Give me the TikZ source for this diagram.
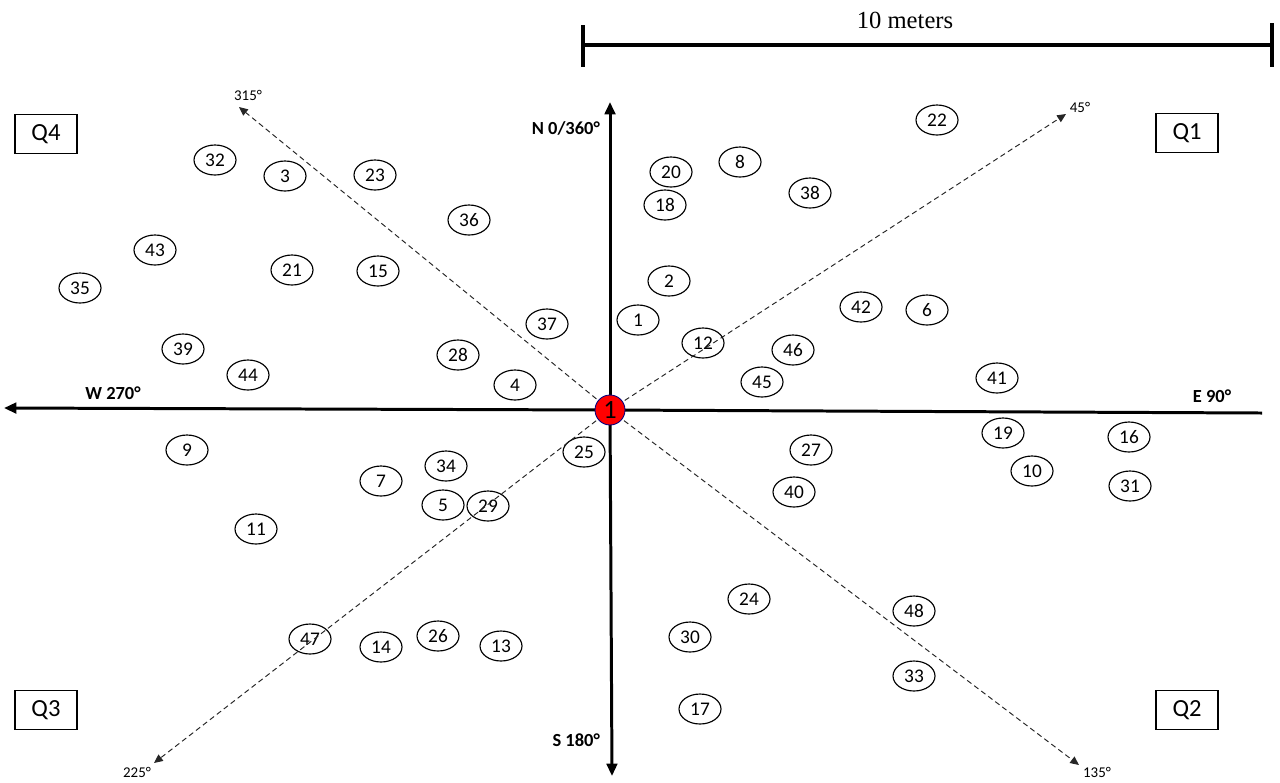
\documentclass[tikz,border=0pt]{standalone}
\usepackage{fontspec}
\setmainfont{Carlito}
\newfontfamily\serifscale{Liberation Serif}
\usetikzlibrary{arrows.meta,shapes.geometric,calc}
\tikzset{
  pt/.style={draw,ellipse,line width=0.65pt,inner sep=0pt,minimum width=0.84cm,minimum height=0.6cm,font=\fontsize{11}{12}\selectfont},
  axis/.style={line width=1.7pt,-{Triangle[length=7pt,width=6pt]}},
  diag/.style={line width=0.55pt,draw=black!85,dash pattern=on 3pt off 2pt,-{Triangle[length=5pt,width=4.5pt]}},
  axlbl/.style={font=\bfseries\fontsize{10.5}{12}\selectfont},
  anglbl/.style={font=\fontsize{8.5}{10}\selectfont},
  qbox/.style={draw,line width=0.65pt,minimum width=1.24cm,minimum height=0.78cm,inner sep=0pt,font=\fontsize{14}{16}\selectfont},
  bar/.style={line width=1.8pt}
}
\begin{document}
\begin{tikzpicture}[x=0.02cm,y=-0.02cm]
\useasboundingbox (0,0) rectangle (1280,782);
% centre
\coordinate (O) at (610,410);
\coordinate (Nt) at (610,102);
\coordinate (St) at (612,776);
\coordinate (Wt) at (4,408);
\coordinate (Et) at (1262,413);
\coordinate (D45) at (1066,114);
\coordinate (D135) at (1079,765);
\coordinate (D225) at (154,763);
\coordinate (D315) at (239,107);
% scale bar
\coordinate (SL) at (583,45);
\coordinate (SR) at (1272,45);
\draw[bar] (SL) -- (SR);
\draw[bar] ($(SL)+(0,-20)$) -- ($(SL)+(0,22)$);
\draw[bar] ($(SR)+(0,-22)$) -- ($(SR)+(0,22)$);
\node[font=\serifscale\fontsize{14}{16}\selectfont] (scl) at (905,20) {10 meters};
% points
\foreach \n/\x/\y in {22/937/120,20/671/172,8/740/162,38/810/193,18/665/205,2/669/281,42/861/307,6/927/310,1/638/320,12/703/343,46/793/350,45/762/382,41/997/378,19/1003/433,16/1129/437,27/811/450,10/1032/471,31/1130/486,40/794/492,24/749/599,48/914/611,30/690/637,33/914/676,17/700/709,32/215/160,3/285/176,23/375/175,36/469/220,43/155/250,21/292/270,15/378/271,35/80/288,37/547/324,39/183/349,28/458/355,44/248/375,4/515/385,9/187/450,25/584/452,34/446/466,7/381/481,5/443/505,29/488/506,11/256/529,47/310/639,14/381/647,26/438/636,13/501/646}
  \node[pt] (p\n) at (\x,\y) {\n};
% axes
\draw[axis] (O) -- (Nt);
\draw[axis] (O) -- (St);
\draw[axis] (O) -- (Wt);
\draw[line width=1.7pt] (O) -- (Et);
% diagonals
\draw[diag] (O) -- (D45);
\draw[diag] (O) -- (D135);
\draw[diag] (O) -- (D225);
\draw[diag] (O) -- (D315);
% centre node
\node[circle,fill=red,draw=blue!50!black,line width=0.5pt,minimum size=0.6cm,inner sep=0pt,font=\fontsize{15}{16}\selectfont] (c) at (O) {1};
% axis labels
\node[axlbl,anchor=east] (nl) at (606,128) {N 0/360°};
\node[axlbl,anchor=east] (sl) at (606,740) {S 180°};
\node[axlbl] (wl) at (113,393) {W 270°};
\node[axlbl] (el) at (1212,396) {E 90°};
\node[anglbl] (a315) at (248,95) {315°};
\node[anglbl] (a45) at (1080,107) {45°};
\node[anglbl] (a225) at (137,772) {225°};
\node[anglbl] (a135) at (1097,772) {135°};
% quadrant boxes
\node[qbox] (q4) at (46,134) {Q4\hspace{0.35cm}};
\node[qbox] (q1) at (1187,133) {Q1\hspace{0.35cm}};
\node[qbox] (q3) at (46,710) {Q3\hspace{0.35cm}};
\node[qbox] (q2) at (1187,710) {Q2\hspace{0.35cm}};
\end{tikzpicture}
\end{document}
